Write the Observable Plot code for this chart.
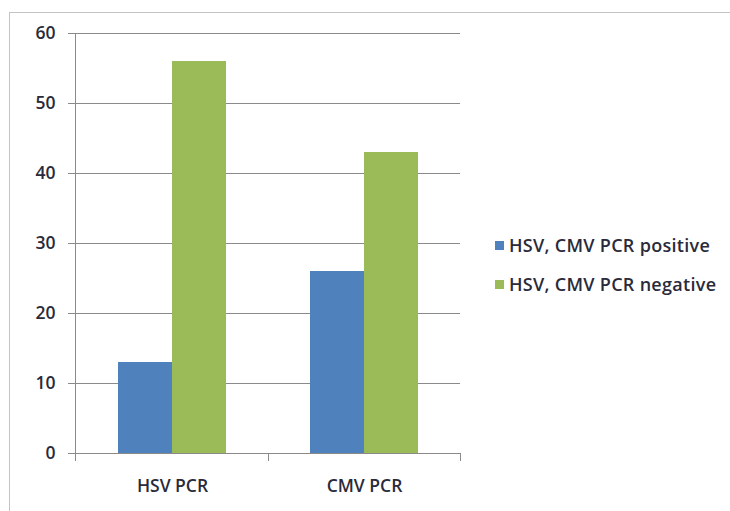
<!DOCTYPE html>
<html>
<head>
<meta charset="utf-8">
<script src="https://cdn.jsdelivr.net/npm/d3@7"></script>
<script src="https://cdn.jsdelivr.net/npm/@observablehq/plot@0.6"></script>
<style>
  html, body { margin: 0; padding: 0; background: #fff; }
  #wrap { position: relative; width: 730px; height: 511px; overflow: hidden; font-family: "Open Sans", sans-serif; }
  #border { position: absolute; left: 9px; top: 12px; width: 740px; height: 520px; border: 1.5px solid #c4c4c4; box-sizing: border-box; }
  #chart { position: absolute; left: 0; top: 0; }
  #legend { position: absolute; left: 495px; top: 232px; font-size: 18px; font-weight: 600; letter-spacing: 0.3px; color: #2a2a3a; }
  .item { display: flex; align-items: center; height: 26px; margin-bottom: 13px; white-space: nowrap; }
  .sw { width: 9px; height: 9px; margin-right: 5px; }
</style>
</head>
<body>
<div id="wrap">
  <div id="border"></div>
  <div id="chart"></div>
  <div id="legend"></div>
</div>
<script>
const categories = ["HSV PCR", "CMV PCR"];
const seriesNames = ["HSV, CMV PCR positive", "HSV, CMV PCR negative"];
const positiveValues = [13, 26];
const negativeValues = [56, 43];
const yTicks = [0, 10, 20, 30, 40, 50, 60];
const seriesColors = ["#4F81BD", "#9BBB59"];

const data = categories.flatMap((c, i) => [
  {category: c, series: seriesNames[0], value: positiveValues[i]},
  {category: c, series: seriesNames[1], value: negativeValues[i]}
]);

const gridColor = "#8a8a8a";
const textColor = "#2a2a3a";

const chart = Plot.plot({
  width: 480,
  height: 511,
  marginLeft: 75,
  marginRight: 20,
  marginTop: 33,
  marginBottom: 58,
  style: {fontFamily: "'Open Sans', sans-serif", fontSize: "17px", fontWeight: 600, color: textColor, background: "transparent", overflow: "visible"},
  fx: {domain: categories, padding: 0, label: null},
  x: {domain: seriesNames, paddingInner: 0, paddingOuter: 0.75, axis: null},
  y: {domain: [0, 60], label: null},
  color: {domain: seriesNames, range: seriesColors},
  marks: [
    Plot.gridY(yTicks, {stroke: gridColor, strokeOpacity: 1, strokeWidth: 1}),
    Plot.barY(data, {fx: "category", x: "series", y: "value", fill: "series"}),
    Plot.axisY(yTicks, {tickSize: 8, tickPadding: 13, stroke: gridColor, fill: textColor, label: null, fontSize: 17.5}),
    Plot.axisFx({anchor: "bottom", tickSize: 0, tickPadding: 26, label: null, fill: textColor, fontSize: 17.5})
  ]
});

document.getElementById("chart").appendChild(chart);

// axis lines: left vertical and category boundary ticks
const fx = chart.scale("fx");
const y = chart.scale("y");
const svg = d3.select(chart);
const y0 = y.apply(0), yTop = y.apply(60);
const x0 = fx.range[0], x1 = fx.range[1];
const step = (x1 - x0) / categories.length;
const g = svg.append("g").attr("stroke", gridColor).attr("stroke-width", 1);
g.append("line").attr("x1", x0 + 0.5).attr("x2", x0 + 0.5).attr("y1", yTop).attr("y2", y0);
g.append("line").attr("x1", x0).attr("x2", x1).attr("y1", y0 + 0.5).attr("y2", y0 + 0.5);
for (let i = 0; i <= categories.length; i++) {
  const xx = Math.round(x0 + i * step) + 0.5;
  g.append("line").attr("x1", xx).attr("x2", xx).attr("y1", y0).attr("y2", y0 + 8);
}

// legend
const legend = d3.select("#legend");
seriesNames.forEach((s, i) => {
  const it = legend.append("div").attr("class", "item");
  it.append("div").attr("class", "sw").style("background", seriesColors[i]);
  it.append("span").text(s);
});
</script>
</body>
</html>
